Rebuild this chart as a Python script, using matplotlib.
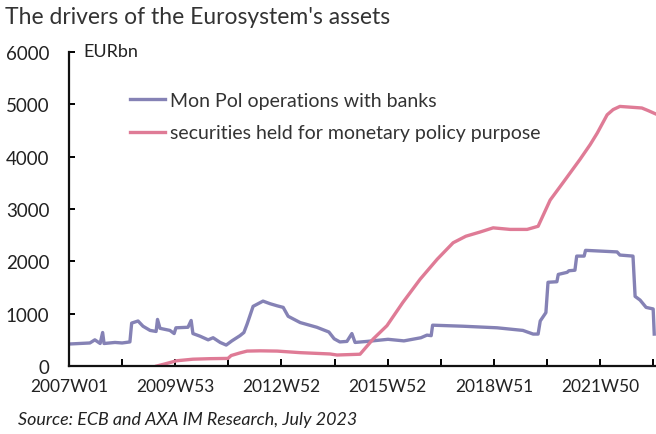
import matplotlib
matplotlib.use("Agg")
import matplotlib.pyplot as plt
import numpy as np

# weekly data, x as decimal years
monpol_t = [2007.0, 2007.59, 2007.73, 2007.88, 2007.95, 2007.99, 2008.3, 2008.5, 2008.72,
            2008.77, 2008.95, 2009.09, 2009.29, 2009.46, 2009.5, 2009.57, 2009.85, 2009.97,
            2010.02, 2010.36, 2010.45, 2010.5, 2010.7, 2010.93, 2011.07, 2011.27, 2011.44,
            2011.6, 2011.83, 2011.94, 2012.03, 2012.2, 2012.48, 2012.68, 2012.88, 2013.05,
            2013.19, 2013.53, 2014.0, 2014.34, 2014.49, 2014.65, 2014.85, 2014.99, 2015.08,
            2015.42, 2016.01, 2016.46, 2016.94, 2017.11, 2017.23, 2017.27, 2018.13, 2019.09,
            2019.82, 2020.11, 2020.25, 2020.31, 2020.47, 2020.53, 2020.78, 2020.82, 2021.07,
            2021.12, 2021.29, 2021.34, 2021.55, 2021.59, 2022.48, 2022.56, 2022.93, 2022.99,
            2023.13, 2023.3, 2023.5, 2023.53]
monpol_v = [420, 440, 500, 430, 640, 430, 450, 440, 460,
            820, 860, 760, 680, 660, 890, 720, 680, 620,
            730, 740, 870, 620, 570, 500, 540, 450, 400,
            480, 580, 640, 800, 1140, 1240, 1190, 1150, 1120,
            950, 830, 740, 650, 520, 460, 470, 620, 450,
            470, 510, 480, 540, 590, 580, 780, 760, 730,
            680, 610, 610, 860, 1020, 1600, 1610, 1750, 1790,
            1820, 1830, 2100, 2100, 2210, 2180, 2120, 2100, 1330,
            1260, 1120, 1090, 610]

sec_t = [2009.48, 2009.71, 2010.04, 2010.5, 2010.98, 2011.49, 2011.58, 2011.83, 2012.03,
         2012.4, 2012.88, 2013.53, 2014.37, 2014.57, 2015.22, 2015.59, 2015.98, 2016.43,
         2016.92, 2017.4, 2017.85, 2018.21, 2018.61, 2018.98, 2019.46, 2019.94, 2020.25,
         2020.59, 2020.95, 2021.43, 2021.72, 2021.92, 2022.2, 2022.37, 2022.56, 2023.18,
         2023.36, 2023.56]
sec_v = [0, 40, 100, 130, 140, 145, 200, 250, 285,
         290, 285, 255, 230, 210, 225, 515, 770, 1215,
         1660, 2040, 2355, 2480, 2560, 2640, 2610, 2610, 2670,
         3170, 3500, 3945, 4230, 4450, 4800, 4900, 4960, 4930,
         4880, 4820]

tick_labels = ["2007W01", "2009W53", "2012W52", "2015W52", "2018W51", "2021W50"]

plt.rcParams['font.family'] = ['Lato', 'DejaVu Sans']

fig = plt.figure(figsize=(6.56, 4.35), dpi=100)
ax = fig.add_axes([69 / 656, 68 / 435, 587 / 656, 314 / 435])

ax.plot(monpol_t, monpol_v, color='#8582b5', lw=2.4, label='Mon Pol operations with banks')
ax.plot(sec_t, sec_v, color='#df7b96', lw=2.4, label='securities held for monetary policy purpose')

ax.set_xlim(2007, 2023.58)
ax.set_ylim(0, 6000)
ax.set_yticks(np.arange(0, 6001, 1000))
xt = 2007 + 1.5 * np.arange(12)
ax.set_xticks(xt)
ax.set_xticklabels([tick_labels[i // 2] if i % 2 == 0 else '' for i in range(12)])

for s in ['top', 'right']:
    ax.spines[s].set_visible(False)
for s in ['left', 'bottom']:
    ax.spines[s].set_linewidth(1.6)
    ax.spines[s].set_color('#111111')
ax.tick_params(axis='y', direction='in', length=4, width=1.4, pad=14, labelsize=13.5,
               labelcolor='#222222')
ax.tick_params(axis='x', direction='in', length=5, width=1.4, pad=9, labelsize=12.5,
               labelcolor='#222222')

ax.text(83 / 656, 1 - 52 / 435, 'EURbn', transform=fig.transFigure, fontsize=13,
        color='#222222', va='center', ha='left')

leg = ax.legend(loc='upper left', bbox_to_anchor=(0.104, 0.873), frameon=False, fontsize=14,
                handlelength=1.8, handletextpad=0.25, labelspacing=0.8, borderpad=0,
                borderaxespad=0)
for t in leg.get_texts():
    t.set_color('#333333')

fig.text(5 / 656, 1 - 18 / 435, "The drivers of the Eurosystem's assets", fontsize=16.5,
         color='#333333', va='center', ha='left')
fig.text(18 / 656, 1 - 420 / 435, 'Source: ECB and AXA IM Research, July 2023', fontsize=12.9,
         style='italic', color='#222222', va='center', ha='left')

fig.savefig('out.png', dpi=100)
